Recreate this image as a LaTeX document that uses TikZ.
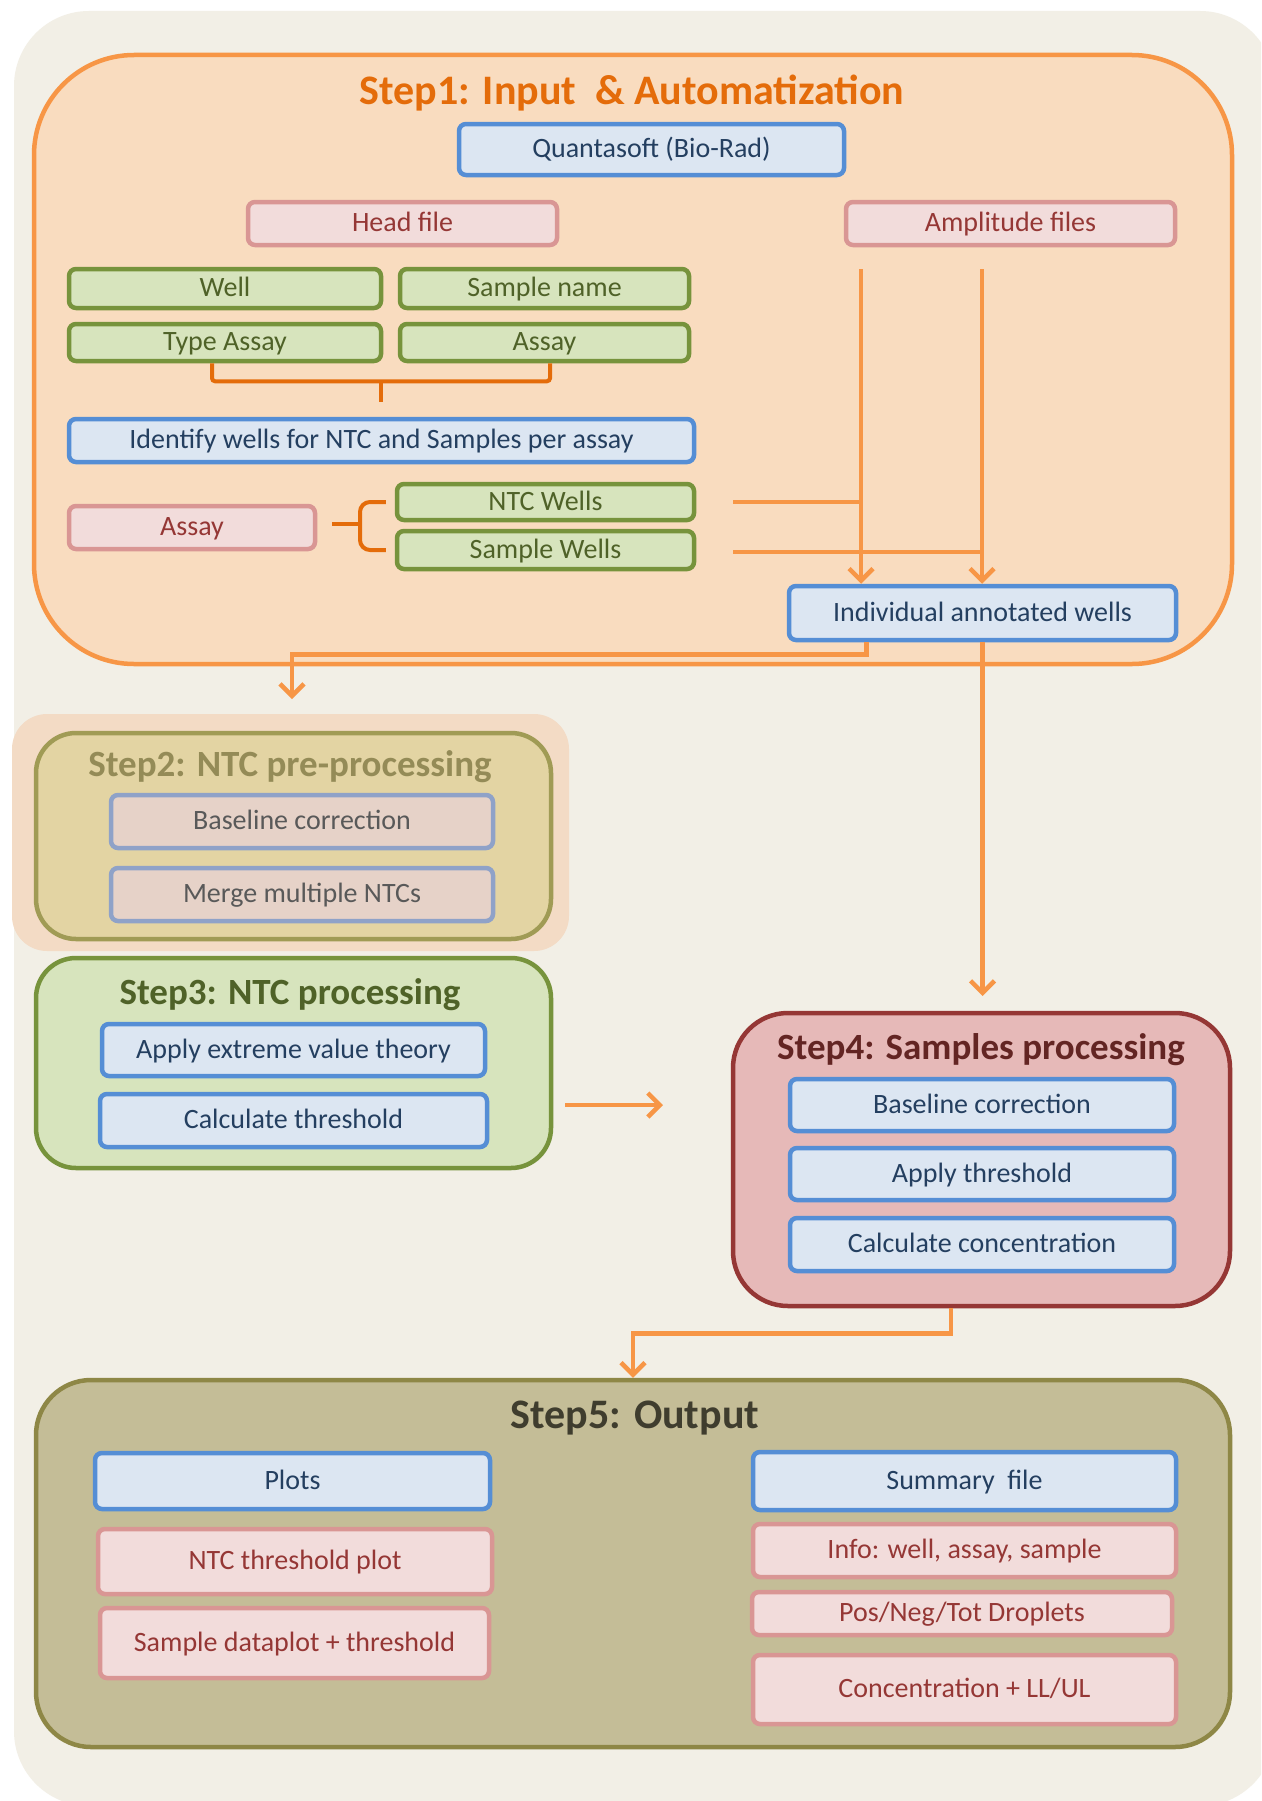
\documentclass[tikz,border=0pt]{standalone}
\usepackage{fontspec}
\setmainfont{Carlito}
\usetikzlibrary{arrows.meta}

\definecolor{paper}{HTML}{F2EFE6}
\definecolor{flowline}{HTML}{F79646}
\definecolor{bracketline}{HTML}{E46C0A}
\definecolor{stepone}{HTML}{F9DCBF}
\definecolor{stepglow}{HTML}{F3DBC5}
\definecolor{steptwo}{HTML}{E3D4A3}
\definecolor{steptwoline}{HTML}{A09B55}
\definecolor{steptwotext}{HTML}{948B57}
\definecolor{bluefill}{HTML}{DCE6F2}
\definecolor{blueline}{HTML}{558ED5}
\definecolor{bluetext}{HTML}{243F60}
\definecolor{pinkfill}{HTML}{F2DCDB}
\definecolor{pinkline}{HTML}{D99694}
\definecolor{pinktext}{HTML}{953735}
\definecolor{greenfill}{HTML}{D7E4BD}
\definecolor{greenline}{HTML}{77933C}
\definecolor{greentext}{HTML}{4F6228}
\definecolor{greyfill}{HTML}{E6D2C8}
\definecolor{greyline}{HTML}{8FA2C8}
\definecolor{greytext}{HTML}{595959}
\definecolor{stepfour}{HTML}{E6B9B8}
\definecolor{stepfourline}{HTML}{953735}
\definecolor{stepfourtext}{HTML}{632523}
\definecolor{stepfive}{HTML}{C4BD97}
\definecolor{stepfiveline}{HTML}{8E8746}
\definecolor{stepfivetext}{HTML}{3F3D2E}

\begin{document}
\begin{tikzpicture}[x=1pt, y=-1pt,
	box/.style={draw, line width=4.5pt, rounded corners=7pt, inner sep=0pt, text height=21pt, text depth=5pt, font=\fontsize{28}{32}\selectfont},
	bluebox/.style={box, draw=blueline, fill=bluefill, text=bluetext},
	pinkbox/.style={box, draw=pinkline, fill=pinkfill, text=pinktext},
	greenbox/.style={box, draw=greenline, fill=greenfill, text=greentext},
	greybox/.style={box, draw=greyline, fill=greyfill, text=greytext},
	stage/.style={draw, line width=4.5pt, inner sep=0pt},
	steptitle/.style={text height=28pt, text depth=8pt, font=\bfseries\fontsize{37}{42}\selectfont},
	flow/.style={draw=flowline, line width=4.5pt},
	flowarrow/.style={flow, -{Straight Barb[length=12pt, width=24pt]}},
	bracket/.style={draw=bracketline, line width=4pt}]

		\clip (0,0) rectangle (1261,1801);
		\fill[white] (0,0) rectangle (1261,1801);
		\fill[paper, rounded corners=75pt] (14,11) rectangle (1275,1806);

		% step 1
		\node[stage, draw=flowline, fill=stepone, rounded corners=100pt, minimum width=1198, minimum height=609] (step1) at (633,359.5) {};
		\node[steptitle, text=bracketline, font=\bfseries\fontsize{42}{46}\selectfont] (t1) at (632,94) {Step1: Input~~\& Automatization};
		\node[bluebox, minimum width=385, minimum height=51] (quanta) at (651.5,149.5) {Quantasoft (Bio-Rad)};
		\node[pinkbox, minimum width=309, minimum height=43] (head) at (402.5,223.5) {Head file};
		\node[pinkbox, minimum width=329, minimum height=43] (ampl) at (1010.5,223.5) {Amplitude files};
		\node[greenbox, minimum width=312, minimum height=39] (well) at (225,288.5) {Well};
		\node[greenbox, minimum width=289, minimum height=39] (sname) at (544.5,288.5) {Sample name};
		\node[greenbox, minimum width=312, minimum height=37] (tassay) at (225,342.5) {Type Assay};
		\node[greenbox, minimum width=289, minimum height=37] (gassay) at (544.5,342.5) {Assay};
		\node[bluebox, minimum width=625, minimum height=43] (ident) at (381.5,440.5) {Identify wells for NTC and Samples per assay};
		\node[pinkbox, minimum width=246, minimum height=43] (passay) at (192,527.5) {Assay};
		\node[greenbox, minimum width=297, minimum height=36] (ntcw) at (545.5,502) {NTC Wells};
		\node[greenbox, minimum width=297, minimum height=38] (samw) at (545.5,550) {Sample Wells};
		\node[bluebox, minimum width=387, minimum height=54] (indiv) at (982.5,613) {Individual annotated wells};

		\draw[bracket, rounded corners=3pt] ([xshift=-13]tassay.south) -- ++(0,18) -| ([xshift=5.5]gassay.south);
		\draw[bracket] (381,380) -- (381,402);
		\draw[bracket, rounded corners=10pt] ([xshift=-9]ntcw.west) -| (360,524) |- ([xshift=-9]samw.west);
		\draw[bracket] (332,524) -- (360,524);

		\coordinate (n1) at (861,269);
		\coordinate (n2) at (982,269);
		\coordinate (h1) at (733,502);
		\coordinate (h2) at (733,552);
		\draw[flowarrow] (n1) -- (n1 |- indiv.north);
		\draw[flowarrow] (n2) -- (n2 |- indiv.north);
		\draw[flow] (h1) -- (h1 -| n1);
		\draw[flow] (h2) -- (h2 -| n2);

		% step 2
		\fill[stepglow, rounded corners=35pt] (12,714) rectangle (569,951);
		\node[stage, draw=steptwoline, fill=steptwo, rounded corners=40pt, minimum width=515, minimum height=206] (step2) at (293.5,836) {};
		\node[steptitle, text=steptwotext] (t2) at (290,766) {Step2: NTC pre-processing};
		\node[greybox, minimum width=382, minimum height=53] (base2) at (302,821.5) {Baseline correction};
		\node[greybox, minimum width=382, minimum height=53] (merge) at (302,894.5) {Merge multiple NTCs};

		% step 3
		\node[stage, draw=greenline, fill=greenfill, rounded corners=40pt, minimum width=515, minimum height=210] (step3) at (293.5,1063) {};
		\node[steptitle, text=greentext] (t3) at (290,994) {Step3: NTC processing};
		\node[bluebox, minimum width=383, minimum height=52] (evt) at (293.5,1050) {Apply extreme value theory};
		\node[bluebox, minimum width=387, minimum height=53] (calcth) at (293.5,1120.5) {Calculate threshold};

		% step 4
		\node[stage, draw=stepfourline, fill=stepfour, rounded corners=55pt, minimum width=497, minimum height=293] (step4) at (981.5,1159.5) {};
		\node[steptitle, text=stepfourtext] (t4) at (981,1049) {Step4: Samples~processing};
		\node[bluebox, minimum width=384, minimum height=52] (base4) at (982,1105) {Baseline correction};
		\node[bluebox, minimum width=384, minimum height=52] (applyth) at (982,1174) {Apply threshold};
		\node[bluebox, minimum width=384, minimum height=53] (calcconc) at (982,1244.5) {Calculate concentration};

		% step 5
		\node[stage, draw=stepfiveline, fill=stepfive, rounded corners=55pt, minimum width=1194, minimum height=367] (step5) at (633,1563.5) {};
		\node[steptitle, text=stepfivetext, font=\bfseries\fontsize{42}{46}\selectfont] (t5) at (635,1418) {Step5: Output};
		\node[bluebox, minimum width=395, minimum height=56] (plots) at (292.5,1481) {Plots};
		\node[pinkbox, minimum width=394, minimum height=65] (ntcplot) at (295,1561.5) {NTC threshold plot};
		\node[pinkbox, minimum width=389, minimum height=70] (samplot) at (294.5,1643) {Sample dataplot + threshold};
		\node[bluebox, minimum width=423, minimum height=58] (summ) at (964.5,1481) {Summary~ file};
		\node[pinkbox, minimum width=423, minimum height=53] (info) at (964.5,1550.5) {Info: well, assay, sample};
		\node[pinkbox, minimum width=420, minimum height=43] (drops) at (962,1613.5) {Pos/Neg/Tot Droplets};
		\node[pinkbox, minimum width=423, minimum height=69] (conc) at (964.5,1689.5) {Concentration + LL/UL};

		% links between steps
		\coordinate (s2in) at (292,699);
		\coordinate (s4in) at (982.5,996);
		\coordinate (s3out) at (565,1105);
		\coordinate (s4left) at (663,1105);
		\draw[flowarrow] ([xshift=-116]indiv.south) -- ++(0,12) -| (s2in);
		\draw[flowarrow] (indiv.south) -- (s4in);
		\draw[flowarrow] (s3out) -- (s4left);
		\draw[flowarrow] ([xshift=-30.5]step4.south) -- ++(0,25) -| (step5.north);
\end{tikzpicture}
\end{document}
